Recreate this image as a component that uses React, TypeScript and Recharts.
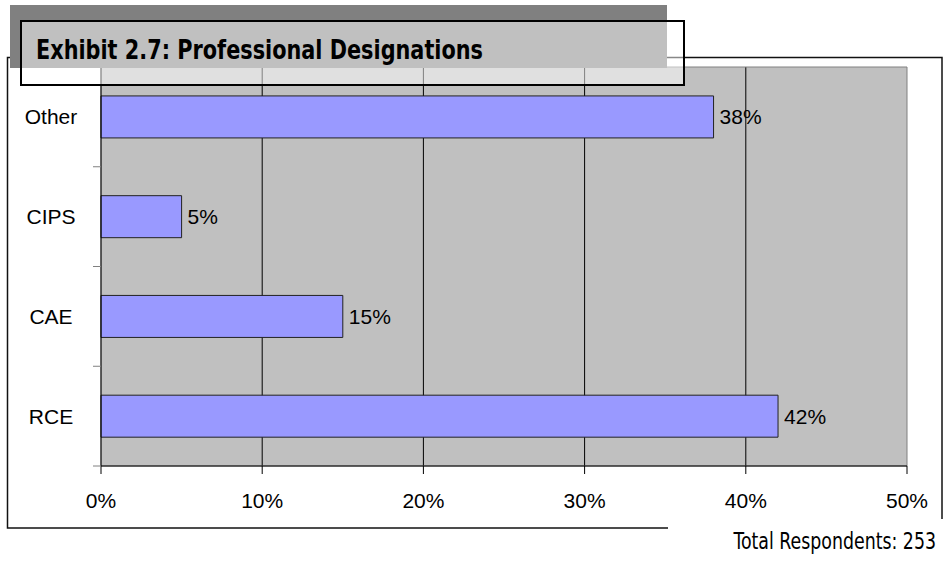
import React from "react";
import {
  BarChart,
  Bar,
  XAxis,
  YAxis,
  CartesianGrid,
  LabelList,
  ReferenceArea,
} from "recharts";

const categories = ["Other", "CIPS", "CAE", "RCE"];
const shares = [38, 5, 15, 42];
const xTicks = [0, 10, 20, 30, 40, 50];
const gridTicks = [10, 20, 30, 40];
const titleText = "Exhibit 2.7: Professional Designations";
const noteText = "Total Respondents: 253";

const data = categories.map((name, i) => ({ name, value: shares[i] }));

const ARIAL = "'Liberation Sans', Arial, Helvetica, sans-serif";
const NARROW = "'Liberation Sans Narrow', 'Arial Narrow', 'DejaVu Sans Condensed', sans-serif";

const CategoryTick = (props: any) => {
  const { x, y, payload } = props;
  const half = payload && typeof payload.offset === "number" ? payload.offset : 50;
  return (
    <g>
      <line x1={x - 8} x2={x} y1={y + half} y2={y + half} stroke="#808080" strokeWidth={1} />
      <text
        x={x - 50}
        y={y}
        textAnchor="middle"
        dominantBaseline="central"
        fontSize={21}
        fontFamily={ARIAL}
        fill="#000"
      >
        {payload.value}
      </text>
    </g>
  );
};

export default function App() {
  return (
    <div
      style={{
        position: "absolute",
        left: 0,
        top: 0,
        width: 945,
        height: 563,
        background: "#fff",
        overflow: "hidden",
      }}
    >
      <div style={{ position: "absolute", left: 0, top: 0 }}>
        <BarChart
          width={945}
          height={563}
          data={data}
          layout="vertical"
          margin={{ top: 67, right: 38, bottom: 57, left: 0 }}
          barCategoryGap="29%"
        >
          <CartesianGrid
            horizontal={false}
            vertical={true}
            stroke="#000"
            strokeWidth={1}
            fill="#c0c0c0"
            fillOpacity={1}
            verticalCoordinatesGenerator={(p: any) => {
              const xa = p && p.xAxis;
              if (xa && typeof xa.scale === "function") {
                return gridTicks.map((v) => xa.scale(v));
              }
              const o = p.offset;
              return gridTicks.map((v) => o.left + (v / 50) * o.width);
            }}
          />
          <ReferenceArea
            x1={0}
            x2={50}
            fill="none"
            stroke="#808080"
            strokeWidth={1}
            ifOverflow="visible"
          />
          <XAxis
            type="number"
            domain={[0, 50]}
            ticks={xTicks}
            interval={0}
            height={40}
            tickSize={8}
            tickMargin={19}
            tickFormatter={(v: number) => `${v}%`}
            axisLine={{ stroke: "#000", strokeWidth: 1 }}
            tickLine={{ stroke: "#000", strokeWidth: 1 }}
            tick={{ fontSize: 21, fill: "#000", fontFamily: ARIAL }}
          />
          <YAxis
            type="category"
            dataKey="name"
            width={101}
            tickSize={0}
            tickMargin={0}
            interval={0}
            axisLine={{ stroke: "#000", strokeWidth: 1 }}
            tickLine={false}
            tick={<CategoryTick />}
          />
          <Bar
            dataKey="value"
            fill="#9999ff"
            stroke="#222"
            strokeWidth={1}
            isAnimationActive={false}
          >
            <LabelList
              dataKey="value"
              position="right"
              offset={6}
              formatter={(v: any) => `${v}%`}
              style={{ fontSize: 21, fill: "#000", fontFamily: ARIAL }}
            />
          </Bar>
        </BarChart>
      </div>
      <svg
        width={945}
        height={563}
        style={{ position: "absolute", left: 0, top: 0, pointerEvents: "none" }}
      >
        <rect x={7.5} y={57.5} width={934.5} height={470.5} fill="none" stroke="#111" strokeWidth={1.5} />
        <rect x={668} y={519} width={277} height={44} fill="#fff" />
        <g transform="translate(936,549) scale(0.84,1)">
          <text x={0} y={0} textAnchor="end" fontSize={23} fontFamily={NARROW} fill="#000">
            {noteText}
          </text>
        </g>
        <rect x={10} y={5} width={657} height={63} fill="#808080" />
        <rect
          x={21}
          y={21}
          width={663}
          height={64}
          fill="#fff"
          fillOpacity={0.5}
          stroke="#000"
          strokeWidth={2}
        />
        <text
          x={36}
          y={59}
          fontSize={27}
          fontWeight="bold"
          fontFamily={NARROW}
          fill="#000"
          textLength={447}
          lengthAdjust="spacingAndGlyphs"
        >
          {titleText}
        </text>
      </svg>
    </div>
  );
}
